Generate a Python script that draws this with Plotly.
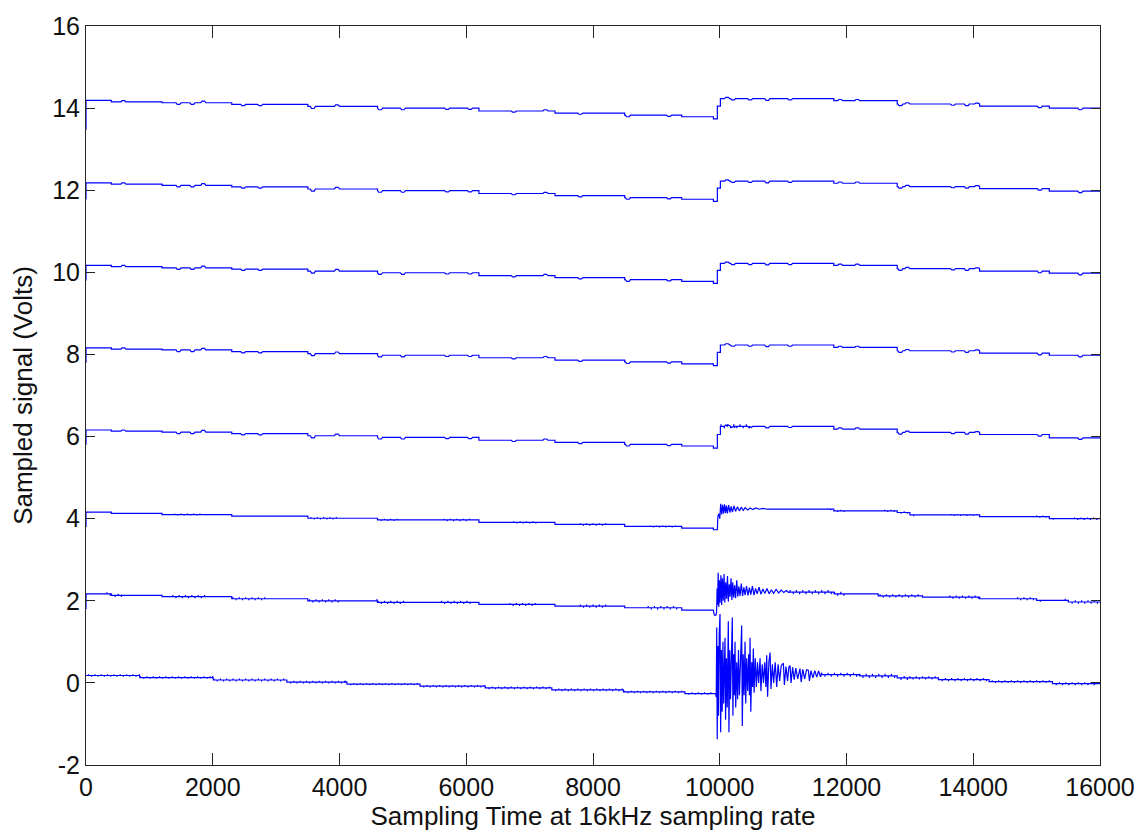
import plotly.graph_objects as go

X_END = 16000
BURST_SPACING = 50  # samples between quantisation ticks inside a noisy burst

# axis ticks
x_ticks = [0, 2000, 4000, 6000, 8000, 10000, 12000, 14000, 16000]
x_tick_text = ["0", "2000", "4000", "6000", "8000", "10000", "12000", "14000", "16000"]
y_ticks = [-2, 0, 2, 4, 6, 8, 10, 12, 14, 16]
y_tick_text = ["-2", "0", "2", "4", "6", "8", "10", "12", "14", "16"]

# first sample of every channel (ch0 .. ch7), volts
ch_start = [0.18, 1.80, 3.80, 5.80, 7.80, 9.80, 11.78, 13.47]

# level steps shared by the upper channels (sample index where each level begins)
step_x = [0, 400, 1200, 2300, 3500, 4600, 6200, 7400, 8500, 9400, 9900, 9962, 10010, 11800, 12800, 14100, 15200]
ch7_lv = [14.19, 14.15, 14.13, 14.09, 14.04, 14.00, 13.93, 13.88, 13.83, 13.79, 13.74, 14.05, 14.23, 14.18, 14.10, 14.05, 14.00]
ch6_lv = [12.18, 12.15, 12.12, 12.08, 12.03, 11.99, 11.92, 11.87, 11.82, 11.78, 11.73, 12.05, 12.22, 12.17, 12.09, 12.04, 11.98]
ch5_lv = [10.17, 10.14, 10.11, 10.08, 10.03, 9.99, 9.92, 9.87, 9.82, 9.78, 9.73, 10.05, 10.22, 10.17, 10.09, 10.03, 9.98]
ch4_lv = [8.16, 8.13, 8.11, 8.07, 8.02, 7.98, 7.92, 7.86, 7.82, 7.77, 7.73, 8.05, 8.23, 8.17, 8.09, 8.03, 7.98]
ch3_lv = [6.16, 6.13, 6.11, 6.07, 6.02, 5.98, 5.91, 5.86, 5.81, 5.77, 5.72, 6.05, 6.25, 6.18, 6.10, 6.05, 5.97]

# small disturbances seen on the smooth channels (sample index, volts)
ripple_x = [30, 410, 590, 1170, 1460, 1680, 1850, 2480, 2750, 3580, 3960, 4640, 5000, 5700, 6060,
            6750, 7250, 7800, 8550, 9200, 10115, 10210, 10480, 10750, 11110, 11790, 11900, 12170,
            12850, 12960, 13680, 13900, 14060, 15050, 15690]
ripple_dv = [0.05, -0.04, 0.03, -0.03, -0.04, -0.04, 0.04, -0.03, -0.03, -0.05, 0.04, -0.04, -0.04, -0.03, -0.03,
             -0.03, 0.03, -0.03, -0.04, -0.03, 0.03, -0.03, -0.03, -0.04, -0.03, -0.05, 0.03, 0.03,
             -0.04, 0.03, -0.03, -0.04, 0.02, -0.04, -0.04]
ch3_bursts = [(10020, 10500, 0.05)]

# channel 2 (4 V): levels, ringing after the step, tick bursts
ch2_pre_lv = [4.16, 4.13, 4.10, 4.06, 4.01, 3.97, 3.91, 3.86, 3.81, 3.77, 3.73]
ch2_tr_x = [9962, 9970, 9985, 10000, 10015, 10030, 10045, 10060, 10075, 10090,
            10105, 10120, 10140, 10160, 10180, 10200, 10225, 10250, 10280, 10310,
            10340, 10370, 10400, 10440, 10480, 10520, 10570, 10620, 10680, 10740]
ch2_tr_y = [3.73, 4.05, 4.12, 4.00, 4.36, 4.10, 4.34, 4.12, 4.35, 4.14,
            4.32, 4.13, 4.33, 4.15, 4.30, 4.16, 4.31, 4.18, 4.29, 4.19,
            4.28, 4.20, 4.27, 4.21, 4.26, 4.22, 4.26, 4.23, 4.25, 4.24]
ch2_post_x = [10750, 11800, 12800, 13000, 14100, 15200]
ch2_post_lv = [4.23, 4.19, 4.15, 4.09, 4.05, 4.00]
ch2_bursts = [(1400, 1800, 0.025), (3550, 3950, 0.03), (4600, 4950, 0.025), (5650, 6050, 0.03),
              (6750, 7100, 0.025), (7800, 8200, 0.03), (8900, 9300, 0.025), (11700, 12000, 0.025),
              (12600, 13100, 0.03), (13650, 14050, 0.025), (15000, 15300, 0.025), (15600, 16000, 0.03)]

# channel 1 (2 V)
ch1_pre_lv = [2.17, 2.13, 2.10, 2.05, 2.00, 1.96, 1.91, 1.87, 1.83, 1.77, 1.73]
ch1_osc_x = [9905, 9915, 9940, 9950, 9958, 9966, 9975, 9985, 9995, 10005,
             10018, 10030, 10042, 10055, 10068, 10080, 10095, 10108, 10122, 10135,
             10150, 10163, 10178, 10192, 10205, 10220, 10235, 10250, 10268, 10285,
             10302, 10320, 10340, 10360, 10380, 10400, 10422, 10445, 10468, 10490,
             10515, 10540, 10565, 10590, 10620, 10650, 10680, 10710, 10745, 10780,
             10815, 10850, 10890, 10930, 10970, 11010, 11050, 11090]
ch1_osc_y = [1.72, 1.65, 1.65, 1.72, 2.30, 1.90, 2.68, 1.85, 2.50, 1.95,
             2.62, 1.90, 2.55, 2.00, 2.65, 1.96, 2.45, 2.05, 2.60, 1.98,
             2.40, 2.10, 2.55, 2.02, 2.45, 2.08, 2.38, 2.06, 2.50, 2.10,
             2.35, 2.12, 2.42, 2.12, 2.33, 2.14, 2.36, 2.13, 2.32, 2.15,
             2.36, 2.14, 2.30, 2.17, 2.33, 2.16, 2.29, 2.18, 2.30, 2.17,
             2.27, 2.18, 2.28, 2.19, 2.26, 2.20, 2.25, 2.20]
ch1_post_x = [11100, 11800, 12500, 13200, 14100, 15000, 15500]
ch1_post_lv = [2.21, 2.17, 2.12, 2.09, 2.05, 2.01, 1.97]
ch1_bursts = [(330, 560, 0.04), (1370, 1870, 0.04), (2320, 2850, 0.035), (3530, 3980, 0.04),
              (4590, 5020, 0.04), (5610, 6090, 0.04), (6690, 7120, 0.035), (7800, 8220, 0.04),
              (8870, 9330, 0.04), (11100, 12000, 0.05), (12530, 13160, 0.04), (13630, 14100, 0.04),
              (14700, 15100, 0.035), (15450, 16000, 0.04)]

# channel 0 (0 V)
ch0_pre_x = [0, 850, 2010, 3170, 4117, 5270, 6300, 7350, 8480, 9450]
ch0_pre_lv = [0.18, 0.13, 0.07, 0.02, -0.03, -0.08, -0.12, -0.17, -0.22, -0.26]
ch0_osc_x = [9935, 9945, 9952, 9960, 9970, 9980, 9992, 10004, 10014, 10026,
             10038, 10050, 10062, 10074, 10083, 10092, 10105, 10118, 10135, 10145,
             10158, 10170, 10185, 10198, 10208, 10220, 10232, 10241, 10252, 10268,
             10282, 10296, 10310, 10330, 10346, 10356, 10370, 10384, 10399, 10410,
             10425, 10440, 10456, 10468, 10478, 10490, 10505, 10518, 10530, 10542,
             10560, 10578, 10596, 10614, 10636, 10650, 10670, 10690, 10710, 10728,
             10741, 10755, 10775, 10794, 10808, 10830, 10850, 10875, 10899, 10920,
             10945, 10970, 11004, 11020, 11045, 11070, 11090, 11109, 11125, 11150,
             11175, 11200, 11230, 11266, 11285, 11310, 11340, 11370, 11398, 11415,
             11440, 11470, 11500, 11530, 11560, 11590]
ch0_osc_y = [-0.27, -0.35, 1.35, -1.37, 0.90, -0.80, 1.20, 1.68, -1.20, 0.80,
             -0.70, 1.00, -0.50, 0.70, 1.10, -0.90, 0.60, -0.60, 1.50, -1.20,
             0.80, -0.40, 0.90, 1.59, -0.80, 0.70, -0.30, 1.00, -0.60, 0.50,
             -0.40, 0.80, -0.30, 0.60, 1.40, -1.05, 0.70, -0.30, 1.00, -0.50,
             0.60, -0.20, 0.70, -0.30, 1.10, -0.70, 0.50, -0.10, 0.84, -0.24,
             0.60, -0.10, 0.50, 0.00, 0.60, -0.20, 0.45, 0.00, 0.50, -0.10,
             0.67, -0.34, 0.50, 0.74, -0.15, 0.45, 0.00, 0.50, -0.10, 0.45,
             0.05, 0.42, 0.48, -0.05, 0.40, 0.05, 0.38, 0.42, 0.00, 0.38,
             0.08, 0.36, 0.10, 0.35, 0.02, 0.33, 0.10, 0.32, 0.31, 0.05,
             0.30, 0.12, 0.30, 0.14, 0.29, 0.15]
ch0_post_x = [11600, 12200, 12800, 13450, 14250, 15250]
ch0_post_lv = [0.20, 0.17, 0.12, 0.08, 0.03, -0.02]
ch0_bursts = [(40, 2000, 0.03), (2000, 4100, 0.035), (4100, 6300, 0.03), (6300, 8500, 0.035),
              (8500, 9900, 0.03), (11600, 13000, 0.05), (13000, 14300, 0.04), (14300, 16000, 0.035)]

BLUE = "#0000ff"
AXIS = "#262626"
FONT = "Liberation Sans, Arial, sans-serif"


def stepped(seg_x, seg_y, x_end, bumps=(), bursts=()):
    """Quantised level segments with optional rounded bumps and tick bursts."""
    xs, ys = [], []
    ends = list(seg_x[1:]) + [x_end]
    for x0, x1, lv in zip(seg_x, ends, seg_y):
        ev = []
        for p, dv in bumps:
            if x0 + 40 <= p <= x1 - 40:
                ev += [(p - 40, lv), (p - 20, lv + dv), (p + 20, lv + dv), (p + 40, lv)]
        for b0, b1, amp in bursts:
            lo, hi = max(b0, x0 + 10), min(b1, x1 - 10)
            sign = 1
            p = lo
            while p <= hi:
                ev += [(p, lv), (p, lv + sign * amp), (p, lv)]
                sign = -sign
                p += BURST_SPACING
        ev.sort(key=lambda e: e[0])
        xs += [x0] + [e[0] for e in ev] + [x1]
        ys += [lv] + [e[1] for e in ev] + [lv]
    return xs, ys


bumps = list(zip(ripple_x, ripple_dv))
channels = []

# channel 0
x, y = [0], [ch_start[0]]
a = stepped(ch0_pre_x, ch0_pre_lv, ch0_osc_x[0], bursts=ch0_bursts)
x += a[0] + ch0_osc_x
y += a[1] + ch0_osc_y
b = stepped(ch0_post_x, ch0_post_lv, X_END, bursts=ch0_bursts)
channels.append((x + b[0], y + b[1]))

# channel 1
x, y = [0], [ch_start[1]]
a = stepped(step_x[:11], ch1_pre_lv, ch1_osc_x[0], bursts=ch1_bursts)
x += a[0] + ch1_osc_x
y += a[1] + ch1_osc_y
b = stepped(ch1_post_x, ch1_post_lv, X_END, bursts=ch1_bursts)
channels.append((x + b[0], y + b[1]))

# channel 2
x, y = [0], [ch_start[2]]
a = stepped(step_x[:11], ch2_pre_lv, ch2_tr_x[0], bursts=ch2_bursts)
x += a[0] + ch2_tr_x
y += a[1] + ch2_tr_y
b = stepped(ch2_post_x, ch2_post_lv, X_END, bursts=ch2_bursts)
channels.append((x + b[0], y + b[1]))

# channels 3 .. 7
for idx, lv in zip(range(3, 8), [ch3_lv, ch4_lv, ch5_lv, ch6_lv, ch7_lv]):
    a = stepped(step_x, lv, X_END, bumps=bumps, bursts=ch3_bursts if idx == 3 else ())
    channels.append(([0] + a[0], [ch_start[idx]] + a[1]))

fig = go.Figure()
for cx, cy in channels:
    fig.add_trace(go.Scatter(x=cx, y=cy, mode="lines",
                             line=dict(color=BLUE, width=1.2), hoverinfo="skip"))

axis_common = dict(showline=True, linecolor=AXIS, linewidth=1, mirror="ticks",
                   ticks="inside", tickcolor=AXIS, tickwidth=1,
                   showgrid=False, zeroline=False,
                   tickfont=dict(family=FONT, size=25, color="#111111"))

fig.update_layout(
    width=1147, height=836,
    margin=dict(l=86, r=47, t=18, b=70),
    paper_bgcolor="white", plot_bgcolor="white",
    showlegend=False,
    font=dict(family=FONT, size=25, color="#111111"),
    xaxis=dict(range=[0, X_END], tickvals=x_ticks, ticktext=x_tick_text, ticklen=12,
               title=dict(text="Sampling Time at 16kHz sampling rate", standoff=5,
                          font=dict(family=FONT, size=26, color="#111111")),
               **axis_common),
    yaxis=dict(range=[-2, 16], tickvals=y_ticks, ticktext=y_tick_text, ticklen=9,
               title=dict(text="Sampled signal (Volts)", standoff=12,
                          font=dict(family=FONT, size=26, color="#111111")),
               **axis_common),
)

fig.write_html("out.html")
